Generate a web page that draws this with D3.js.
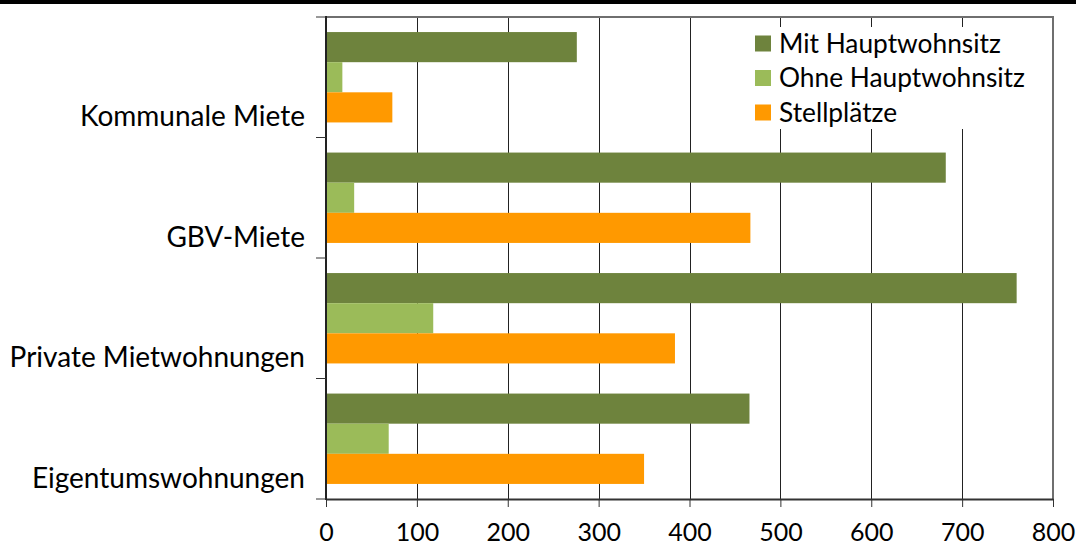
<!DOCTYPE html>
<html>
<head>
<meta charset="utf-8">
<script src="https://cdn.jsdelivr.net/npm/d3@7"></script>
<style>
  html, body { margin: 0; padding: 0; background: #fff; }
  svg { display: block; }
  text { font-family: Lato, "Open Sans", sans-serif; fill: #000; }
</style>
</head>
<body>
<svg id="chart" width="1076" height="545"></svg>
<script>
// Wohnungstypen (von oben nach unten)
const categories = ["Kommunale Miete", "GBV-Miete", "Private Mietwohnungen", "Eigentumswohnungen"];
const seriesNames = ["Mit Hauptwohnsitz", "Ohne Hauptwohnsitz", "Stellplätze"];
const mitHauptwohnsitz = [276, 682, 760, 466];
const ohneHauptwohnsitz = [18, 31, 118, 69];
const stellplaetze = [73, 467, 384, 350];
const xTicks = [0, 100, 200, 300, 400, 500, 600, 700, 800];
const colors = ["#6E833D", "#9BBB59", "#FF9900"];

const seriesValues = [mitHauptwohnsitz, ohneHauptwohnsitz, stellplaetze];
const rows = categories.map((c, i) => ({
  category: c,
  values: seriesNames.map((s, k) => ({ series: s, value: seriesValues[k][i], color: colors[k] }))
}));

const svg = d3.select("#chart");
const plot = { left: 326, right: 1053, top: 17, bottom: 499 };

const x = d3.scaleLinear().domain([0, 800]).range([plot.left, plot.right]);
const y = d3.scaleBand().domain(categories).range([plot.top, plot.bottom]);
const ySub = d3.scaleBand().domain(seriesNames).range([0, y.bandwidth()]).paddingOuter(0.5);

// Kopfzeile
svg.append("rect").attr("x", 0).attr("y", 0).attr("width", 1076).attr("height", 4).attr("fill", "#000");

// vertikale Gitterlinien
svg.append("g")
  .selectAll("line")
  .data(xTicks.filter(t => t > 0 && t < 800))
  .join("line")
  .attr("x1", d => Math.round(x(d)) + 0.5).attr("x2", d => Math.round(x(d)) + 0.5)
  .attr("y1", plot.top).attr("y2", plot.bottom)
  .attr("stroke", "#222").attr("stroke-width", 1);

// Rahmen oben und rechts
svg.append("line")
  .attr("x1", plot.left).attr("x2", plot.right + 1)
  .attr("y1", plot.top).attr("y2", plot.top)
  .attr("stroke", "#6f6f6f").attr("stroke-width", 2);
svg.append("line")
  .attr("x1", plot.right).attr("x2", plot.right)
  .attr("y1", plot.top).attr("y2", plot.bottom)
  .attr("stroke", "#6f6f6f").attr("stroke-width", 2);

// Balken
const groups = svg.append("g")
  .selectAll("g")
  .data(rows)
  .join("g")
  .attr("transform", d => `translate(0,${y(d.category)})`);

groups.selectAll("rect")
  .data(d => d.values)
  .join("rect")
  .attr("x", x(0))
  .attr("y", d => ySub(d.series))
  .attr("width", d => x(d.value) - x(0))
  .attr("height", ySub.bandwidth())
  .attr("fill", d => d.color);

// x-Achse
const xAxis = d3.axisBottom(x).tickValues(xTicks).tickSize(8).tickSizeOuter(0).tickPadding(16);
const gx = svg.append("g").attr("transform", `translate(0,${plot.bottom})`).call(xAxis);
gx.select(".domain").attr("stroke", "#333").attr("stroke-width", 2);
gx.selectAll(".tick line").attr("stroke", "#333");
gx.selectAll(".tick text").attr("font-size", 25).attr("font-family", "Lato, sans-serif").attr("fill", "#000");

// y-Achse mit Teilstrichen an den Kategoriegrenzen
const boundaries = categories.map(c => y(c)).concat([plot.bottom]);
svg.append("line")
  .attr("x1", plot.left).attr("x2", plot.left)
  .attr("y1", plot.top - 1).attr("y2", plot.bottom + 1)
  .attr("stroke", "#222").attr("stroke-width", 2);
svg.append("g")
  .selectAll("line")
  .data(boundaries)
  .join("line")
  .attr("x1", plot.left - 10).attr("x2", plot.left)
  .attr("y1", d => d).attr("y2", d => d)
  .attr("stroke", "#333").attr("stroke-width", 1);

// Kategoriebeschriftungen
svg.append("g")
  .selectAll("text")
  .data(categories)
  .join("text")
  .attr("x", 305)
  .attr("y", d => y(d) + 109)
  .attr("text-anchor", "end")
  .attr("font-size", 28)
  .text(d => d);

// Legende
const legend = svg.append("g");
legend.append("rect")
  .attr("x", 745).attr("y", 27).attr("width", 295).attr("height", 102)
  .attr("fill", "#fff");
const items = legend.selectAll("g.item")
  .data(seriesNames.map((s, k) => ({ s, c: colors[k] })))
  .join("g")
  .attr("class", "item")
  .attr("transform", (d, i) => `translate(755,${43.5 + i * 34.5})`);
items.append("rect")
  .attr("x", 0).attr("y", -8).attr("width", 16).attr("height", 16)
  .attr("fill", d => d.c);
items.append("text")
  .attr("x", 24).attr("y", 0).attr("dy", "0.35em")
  .attr("font-size", 26.3)
  .text(d => d.s);
</script>
</body>
</html>
